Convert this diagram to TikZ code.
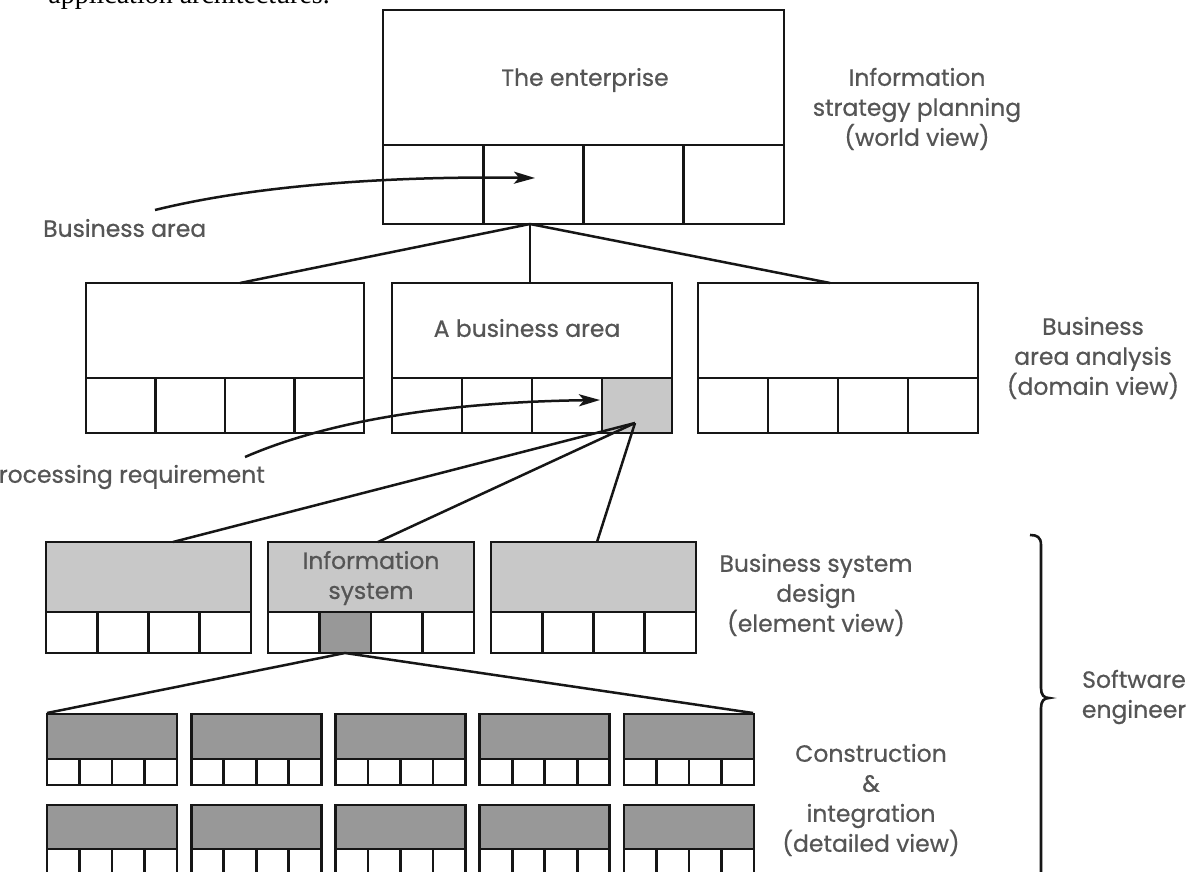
\documentclass[tikz,border=0pt]{standalone}
\usepackage{fontspec}
\setmainfont{Poppins}
\newfontfamily\labelfont{Poppins}[FakeBold=0.6]
\newfontfamily\bodyserif{Liberation Serif}
\usetikzlibrary{arrows.meta}

\definecolor{lightfill}{RGB}{200,200,200}
\definecolor{darkfill}{RGB}{152,152,152}
\definecolor{ink}{RGB}{22,22,22}
\definecolor{labelgray}{RGB}{85,85,85}

% One block: title area on top, a row of four cells below.
% #1 name, #2 left, #3 top, #4 right, #5 cell row top, #6 bottom,
% #7 title fill, #8 highlighted cell (0 = none), #9 its fill
\newcommand\unitblock[9]{%
  \fill[#7] (#2,#3) rectangle (#4,#5);
  \ifnum#8>0 \fill[#9] ({#2+(#8-1)*(#4-#2)/4},#5) rectangle ({#2+#8*(#4-#2)/4},#6);\fi
  \node[boxline, anchor=north west, inner sep=0pt, outer sep=0pt,
        minimum width={(#4-#2)*1pt}, minimum height={(#6-#3)*1pt}] (#1) at (#2,#3) {};
  \draw[boxline] (#2,#5) -- (#4,#5);
  \foreach \k in {1,2,3} {\draw[boxline] ({#2+\k*(#4-#2)/4},#5) -- ({#2+\k*(#4-#2)/4},#6);}
}

\begin{document}
\begin{tikzpicture}[x=1pt,y=-1pt,
  boxline/.style={draw=ink,line width=2.9pt},
  link/.style={draw=ink,line width=2.5pt},
  pointer/.style={link,-{Stealth[length=21pt,width=12pt,inset=5pt]}},
  lbl/.style={text=labelgray,font=\labelfont\fontsize{23.5}{30}\selectfont,align=center,inner sep=0pt},
]
\useasboundingbox (0,0) rectangle (1196,872);
\clip (0,0) rectangle (1196,872);
\fill[white] (0,0) rectangle (1196,872);

% running text of the page above the figure
\node[font=\bodyserif\fontsize{28}{30}\selectfont, anchor=base east, inner sep=0pt] (caption) at (330,4) {application architectures.};

% level 1: the enterprise
\unitblock{ent}{383}{10}{784}{145}{224}{white}{0}{white}
\node[lbl] (entText) at (585,80) {The enterprise};

% level 2: business areas
\unitblock{baL}{86}{283}{364}{378}{433}{white}{0}{white}
\unitblock{baM}{392}{283}{672}{378}{433}{white}{4}{lightfill}
\unitblock{baR}{698}{283}{978}{378}{433}{white}{0}{white}
\node[lbl] (baText) at (527,328) {A business area};

% level 3: business systems
\unitblock{bsL}{46}{542}{251}{612}{653}{lightfill}{0}{white}
\unitblock{bsM}{268}{542}{474}{612}{653}{lightfill}{2}{darkfill}
\unitblock{bsR}{491}{542}{696}{612}{653}{lightfill}{0}{white}
\node[lbl] (bsText) at (371,578) {Information\\system};

% level 4: construction units, two rows of five
\foreach \i in {0,...,4} {
  \pgfmathsetmacro\L{47+144.25*\i}
  \pgfmathsetmacro\R{\L+130}
  \unitblock{cuA\i}{\L}{714}{\R}{759}{785}{darkfill}{0}{white}
  \unitblock{cuB\i}{\L}{805}{\R}{849}{875}{darkfill}{0}{white}
}

% connector end points
\coordinate (entHub) at (530,224);
\coordinate (baLIn) at (240,283);
\coordinate (baMIn) at (530,283);
\coordinate (baRIn) at (830,283);
\coordinate (baHub) at (635,423);
\coordinate (bsLIn) at (173,542);
\coordinate (bsMIn) at (378,542);
\coordinate (bsRIn) at (597,542);
\coordinate (bsHub) at (345,653);
\coordinate (cuLIn) at (47,713);
\coordinate (cuRIn) at (753,713);

\draw[link] (entHub) -- (baLIn);
\draw[link] (entHub) -- (baMIn);
\draw[link] (entHub) -- (baRIn);
\draw[link] (baHub) -- (bsLIn);
\draw[link] (baHub) -- (bsMIn);
\draw[link] (baHub) -- (bsRIn);
\draw[link] (cuLIn) -- (bsHub) -- (cuRIn);

% pointers with their labels
\node[lbl, anchor=west] (areaLbl) at (43,228) {Business area};
\coordinate (areaFrom) at (155,210);
\coordinate (areaTo) at (535,178);
\draw[pointer] (areaFrom) .. controls (260,184) and (400,176) .. (areaTo);

\node[lbl, anchor=east] (reqLbl) at (265,477) {Processing requirement};
\coordinate (reqFrom) at (245,457);
\coordinate (reqTo) at (600,400);
\draw[pointer] (reqFrom) .. controls (330,420) and (450,402) .. (reqTo);

% level names
\node[lbl] (lvl1) at (917,109) {Information\\strategy planning\\(world view)};
\node[lbl] (lvl2) at (1093,358) {Business\\area analysis\\(domain view)};
\node[lbl] (lvl3) at (816,595) {Business system\\design\\(element view)};
\node[lbl] (lvl4) at (871,800) {Construction\\\&\\integration\\(detailed view)};

% brace for the last two levels
\draw[ink, line width=2.6pt] (1030,535) .. controls (1037,535) and (1041,537) .. (1041,545)
  -- (1041,688) .. controls (1041,695) and (1044,698) .. (1049,698)
  .. controls (1044,698) and (1041,701) .. (1041,708) -- (1041,880);
\node[lbl] (roleLbl) at (1134,697) {Software\\engineer};
\end{tikzpicture}
\end{document}
